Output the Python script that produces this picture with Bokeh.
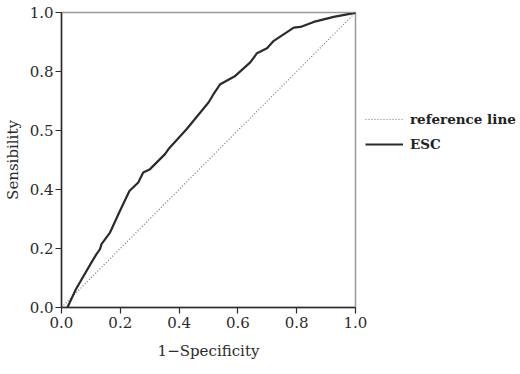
from bokeh.plotting import figure
from bokeh.models import Range1d, FixedTicker, Legend, LegendItem
from bokeh.embed import file_html
from bokeh.resources import INLINE

# ROC curve for ESC
fpr = [0.02, 0.049, 0.102, 0.119, 0.131, 0.136, 0.165, 0.199, 0.231, 0.261, 0.278,
       0.301, 0.352, 0.364, 0.426, 0.500, 0.517, 0.540, 0.591, 0.642, 0.665, 0.699,
       0.722, 0.790, 0.813, 0.858, 0.926, 0.994, 1.0]
tpr = [0.0, 0.062, 0.153, 0.181, 0.198, 0.215, 0.254, 0.328, 0.395, 0.424, 0.458,
       0.469, 0.520, 0.537, 0.605, 0.695, 0.723, 0.757, 0.785, 0.831, 0.862, 0.879,
       0.904, 0.949, 0.951, 0.968, 0.985, 0.998, 1.0]
ref_x = [0.0, 1.0]
ref_y = [0.0, 1.0]

x_ticks = [0.0, 0.2, 0.4, 0.6, 0.8, 1.0]
x_tick_labels = ["0.0", "0.2", "0.4", "0.6", "0.8", "1.0"]
y_ticks = [0.0, 0.2, 0.4, 0.6, 0.8, 1.0]
y_tick_labels = ["0.0", "0.2", "0.4", "0.5", "0.8", "1.0"]

FONT = "DejaVu Serif"
DARK = "#2b2b2b"

p = figure(frame_width=294, frame_height=295, output_backend="svg", toolbar_location=None,
           x_range=Range1d(0, 1), y_range=Range1d(0, 1),
           min_border_left=56, min_border_right=150, min_border_top=12, min_border_bottom=50)
p.background_fill_color = "white"
p.border_fill_color = "white"
p.outline_line_color = "#9a9a9a"
p.outline_line_width = 1.5
p.xgrid.visible = False
p.ygrid.visible = False

r_ref = p.line(ref_x, ref_y, line_color="#7a7a7a", line_width=1.2, line_dash="1 2")
r_esc = p.line(fpr, tpr, line_color=DARK, line_width=2.2)

for ax, ticks, labels in ((p.xaxis[0], x_ticks, x_tick_labels), (p.yaxis[0], y_ticks, y_tick_labels)):
    ax.ticker = FixedTicker(ticks=ticks)
    ax.major_label_overrides = {t: l for t, l in zip(ticks, labels)}
    ax.minor_tick_line_color = None
    ax.major_tick_out = 6
    ax.major_tick_in = 0
    ax.axis_line_color = DARK
    ax.axis_line_width = 1.5
    ax.major_tick_line_color = DARK
    ax.major_tick_line_width = 1.2
    ax.major_label_text_font = FONT
    ax.major_label_text_font_size = "15px"
    ax.major_label_text_color = DARK
    ax.axis_label_text_font = FONT
    ax.axis_label_text_font_size = "15px"
    ax.axis_label_text_font_style = "normal"
    ax.axis_label_text_color = DARK

p.xaxis.major_label_standoff = 3
p.yaxis.major_label_standoff = 2
p.xaxis.axis_label = "1\u2212Specificity"
p.yaxis.axis_label = "Sensibility"
p.xaxis.axis_label_standoff = 11
p.yaxis.axis_label_standoff = 5

legend = Legend(items=[LegendItem(label="reference line", renderers=[r_ref]),
                       LegendItem(label="ESC", renderers=[r_esc])],
                location=(10, 153), margin=0, padding=0, spacing=5,
                glyph_width=38, glyph_height=20, label_standoff=7,
                label_text_font=FONT, label_text_font_size="13.5px",
                label_text_font_style="bold", label_text_color="#222222",
                border_line_color=None, background_fill_alpha=0)
p.add_layout(legend, "right")

open("out.html", "w").write(file_html(p, INLINE))
